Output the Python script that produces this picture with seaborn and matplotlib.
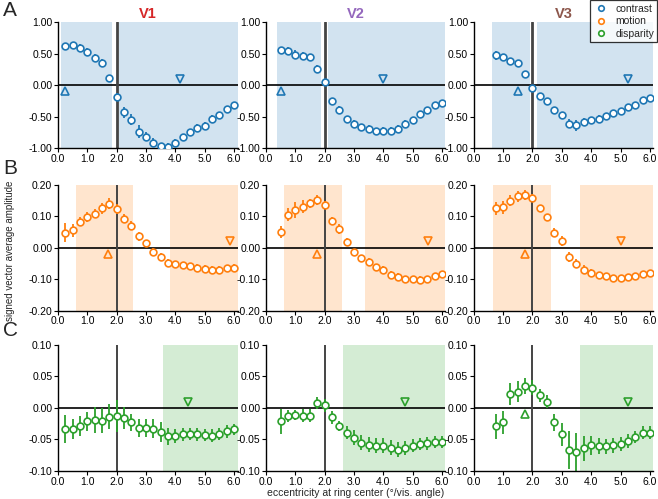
import numpy as np
import matplotlib
matplotlib.use("Agg")
import matplotlib.pyplot as plt
import seaborn as sns
from matplotlib.lines import Line2D
from matplotlib.ticker import FormatStrFormatter

# eccentricity positions (deg)
ecc_v1 = np.arange(0.25, 6.01, 0.25)
ecc_v2 = np.arange(0.50, 6.01, 0.25)
ecc_v3 = np.arange(0.75, 6.01, 0.25)

areas = ['V1', 'V2', 'V3']
conditions = ['contrast', 'motion', 'disparity']

# contrast
contrast_v1 = [0.62, 0.64, 0.59, 0.53, 0.43, 0.35, 0.105, -0.19, -0.43, -0.55, -0.74, -0.82,
               -0.91, -0.97, -0.98, -0.92, -0.82, -0.75, -0.68, -0.65, -0.54, -0.47, -0.38, -0.32]
contrast_v1_err = [0.04, 0.05, 0.06, 0.06, 0.06, 0.07, 0.04, 0.07, 0.09, 0.09, 0.1, 0.07,
                   0.07, 0.06, 0.07, 0.06, 0.05, 0.05, 0.06, 0.06, 0.06, 0.05, 0.04, 0.04]
contrast_v2 = [0.55, 0.54, 0.48, 0.46, 0.44, 0.26, 0.05, -0.26, -0.39, -0.54, -0.61, -0.66,
               -0.69, -0.73, -0.72, -0.72, -0.69, -0.61, -0.55, -0.46, -0.39, -0.32, -0.29]
contrast_v2_err = [0.04, 0.07, 0.07, 0.06, 0.06, 0.06, 0.04, 0.06, 0.06, 0.05, 0.05, 0.05,
                   0.06, 0.05, 0.05, 0.06, 0.06, 0.05, 0.04, 0.04, 0.04, 0.04, 0.04]
contrast_v3 = [0.47, 0.44, 0.38, 0.35, 0.18, -0.04, -0.17, -0.25, -0.39, -0.48, -0.61,
               -0.64, -0.58, -0.56, -0.53, -0.49, -0.44, -0.41, -0.35, -0.31, -0.23, -0.21]
contrast_v3_err = [0.07, 0.06, 0.04, 0.04, 0.03, 0.04, 0.04, 0.04, 0.04, 0.04, 0.07,
                   0.08, 0.06, 0.05, 0.05, 0.04, 0.04, 0.04, 0.04, 0.04, 0.03, 0.03]

# motion
motion_v1 = [0.047, 0.055, 0.083, 0.098, 0.108, 0.125, 0.14, 0.123, 0.092, 0.07, 0.036, 0.014,
             -0.014, -0.03, -0.047, -0.052, -0.054, -0.057, -0.063, -0.066, -0.069, -0.069, -0.064, -0.063]
motion_v1_err = [0.03, 0.02, 0.015, 0.015, 0.015, 0.018, 0.017, 0.015, 0.015, 0.015, 0.015, 0.01,
                 0.012, 0.012, 0.01, 0.01, 0.01, 0.01, 0.01, 0.01, 0.01, 0.01, 0.01, 0.01]
motion_v2 = [0.05, 0.105, 0.12, 0.13, 0.141, 0.152, 0.135, 0.086, 0.06, 0.019, -0.015, -0.032,
             -0.044, -0.061, -0.071, -0.086, -0.093, -0.098, -0.1, -0.101, -0.099, -0.088, -0.084]
motion_v2_err = [0.02, 0.02, 0.025, 0.02, 0.015, 0.015, 0.013, 0.013, 0.015, 0.012, 0.01, 0.01,
                 0.01, 0.01, 0.012, 0.012, 0.012, 0.01, 0.01, 0.01, 0.01, 0.008, 0.008]
motion_v3 = [0.125, 0.128, 0.149, 0.163, 0.167, 0.158, 0.125, 0.096, 0.048, 0.022, -0.03,
             -0.05, -0.069, -0.08, -0.086, -0.088, -0.095, -0.097, -0.092, -0.09, -0.084, -0.081]
motion_v3_err = [0.02, 0.02, 0.018, 0.017, 0.015, 0.012, 0.01, 0.01, 0.015, 0.015, 0.015,
                 0.015, 0.015, 0.012, 0.01, 0.008, 0.01, 0.008, 0.008, 0.008, 0.008, 0.008]

# disparity
disparity_v1 = [-0.033, -0.033, -0.029, -0.021, -0.019, -0.02, -0.014, -0.013, -0.016, -0.023,
                -0.032, -0.032, -0.033, -0.038, -0.045, -0.045, -0.042, -0.041, -0.042, -0.043,
                -0.044, -0.041, -0.037, -0.034]
disparity_v1_err = [0.022, 0.016, 0.016, 0.015, 0.02, 0.02, 0.02, 0.025, 0.018, 0.014, 0.014, 0.014,
                    0.015, 0.016, 0.014, 0.011, 0.01, 0.01, 0.01, 0.01, 0.01, 0.01, 0.01, 0.009]
disparity_v2 = [-0.021, -0.013, -0.011, -0.012, -0.012, 0.008, 0.004, -0.015, -0.028, -0.039,
                -0.047, -0.055, -0.058, -0.06, -0.06, -0.063, -0.066, -0.063, -0.06, -0.057,
                -0.056, -0.054, -0.054]
disparity_v2_err = [0.02, 0.01, 0.008, 0.01, 0.01, 0.01, 0.01, 0.01, 0.008, 0.01, 0.012, 0.012,
                    0.012, 0.012, 0.012, 0.012, 0.012, 0.011, 0.01, 0.01, 0.01, 0.01, 0.01]
disparity_v3 = [-0.029, -0.023, 0.022, 0.026, 0.035, 0.032, 0.02, 0.01, -0.023, -0.042, -0.066,
                -0.07, -0.064, -0.059, -0.06, -0.061, -0.059, -0.057, -0.053, -0.046, -0.039, -0.039]
disparity_v3_err = [0.02, 0.018, 0.018, 0.016, 0.013, 0.012, 0.01, 0.01, 0.013, 0.018, 0.03,
                    0.03, 0.02, 0.015, 0.013, 0.012, 0.012, 0.011, 0.011, 0.01, 0.01, 0.01]

# shaded eccentricity ranges per condition / area
shade_contrast = [[(0.09, 1.84), (2.08, 6.12)], [(0.38, 1.87), (2.12, 6.12)], [(0.63, 1.9), (2.14, 6.12)]]
shade_motion = [[(0.62, 2.57), (3.82, 6.12)], [(0.63, 2.61), (3.38, 6.12)], [(0.65, 2.62), (3.63, 6.12)]]
shade_disparity = [[(3.57, 6.12)], [(2.63, 6.12)], [(3.63, 6.12)]]

# triangle markers (x position) below / above zero
up_contrast = [0.25, 0.5, 1.5]
down_contrast = [4.15, 4.0, 5.27]
up_motion = [1.72, 1.75, 1.76]
down_motion = [5.88, 5.52, 5.0]
up_disparity = [None, None, 1.76]
down_disparity = [4.42, 4.75, 5.27]

colors = {'contrast': '#1f77b4', 'motion': '#ff7f0e', 'disparity': '#2ca02c'}
area_colors = ['#d62728', '#9467bd', '#8c564b']

rows = [
    ('contrast', [ecc_v1, ecc_v2, ecc_v3], [contrast_v1, contrast_v2, contrast_v3],
     [contrast_v1_err, contrast_v2_err, contrast_v3_err], shade_contrast, up_contrast, down_contrast, 1.0),
    ('motion', [ecc_v1, ecc_v2, ecc_v3], [motion_v1, motion_v2, motion_v3],
     [motion_v1_err, motion_v2_err, motion_v3_err], shade_motion, up_motion, down_motion, 0.2),
    ('disparity', [ecc_v1, ecc_v2, ecc_v3], [disparity_v1, disparity_v2, disparity_v3],
     [disparity_v1_err, disparity_v2_err, disparity_v3_err], shade_disparity, up_disparity, down_disparity, 0.1),
]

sns.set_theme(style="ticks")
plt.rcParams['font.family'] = ['Liberation Sans', 'DejaVu Sans']
plt.rcParams['xtick.labelsize'] = 7.5
plt.rcParams['ytick.labelsize'] = 7.5

fig = plt.figure(figsize=(6.58, 4.99), dpi=100)

lefts = [0.088, 0.404, 0.720]
width = 0.273
bottoms = [0.703, 0.377, 0.056]
height = 0.253

for r, (cond, xs, ys, errs, shades, ups, downs, lim) in enumerate(rows):
    col = colors[cond]
    for c in range(3):
        ax = fig.add_axes([lefts[c], bottoms[r], width, height])
        for (a, b) in shades[c]:
            ax.axvspan(a, b, color=col, alpha=0.2, lw=0, zorder=0)
        ax.axhline(0, color='black', lw=1.2, zorder=1)
        ax.axvline(2.0, color='#444444', lw=2.0 if r == 0 else 1.4, zorder=1)
        ax.errorbar(xs[c], ys[c], yerr=errs[c], fmt='none', ecolor=col, elinewidth=1.3, zorder=2)
        sns.scatterplot(x=xs[c], y=ys[c], ax=ax, marker='o', s=24, facecolor='white',
                        edgecolor=col, linewidth=1.2, zorder=3)
        if ups[c] is not None:
            ax.plot(ups[c], -0.1 * lim, marker='^', ms=6, mfc='none', mec=col, mew=1.2, ls='none', zorder=3)
        if downs[c] is not None:
            ax.plot(downs[c], 0.1 * lim, marker='v', ms=6, mfc='none', mec=col, mew=1.2, ls='none', zorder=3)

        ax.set_xlim(0, 6.12)
        ax.set_ylim(-lim, lim)
        ax.set_xticks(np.arange(0, 6.01, 1.0))
        ax.set_yticks(np.linspace(-lim, lim, 5))
        ax.xaxis.set_major_formatter(FormatStrFormatter('%.1f'))
        ax.yaxis.set_major_formatter(FormatStrFormatter('%.2f'))
        ax.tick_params(length=3, width=0.8, pad=1, colors='black')
        for s in ['top', 'right']:
            ax.spines[s].set_visible(False)
        for s in ['left', 'bottom']:
            ax.spines[s].set_color('black')
            ax.spines[s].set_linewidth(1.0)
        if r == 0:
            ax.set_title(areas[c], color=area_colors[c], fontweight='bold', fontsize=10.5, pad=3)

for lab, y in zip(['A', 'B', 'C'], [0.998, 0.682, 0.356]):
    fig.text(0.005, y, lab, fontsize=15, va='top', ha='left')

fig.text(0.008, 0.498, 'signed vector average amplitude', rotation=90, va='center', ha='left', fontsize=7)
fig.text(0.54, 0.003, 'eccentricity at ring center (\u00b0/vis. angle)', ha='center', va='bottom', fontsize=7.5)

handles = [Line2D([0], [0], marker='o', ls='none', mfc='white', mec=colors[k], ms=4, mew=1.2)
           for k in conditions]
leg = fig.legend(handles, conditions, loc='upper right', bbox_to_anchor=(0.999, 0.999),
                 fontsize=7.5, frameon=True, fancybox=False, handletextpad=0.6, handlelength=1.5,
                 borderpad=0.3, labelspacing=0.25, borderaxespad=0)
leg.get_frame().set_edgecolor('black')
leg.get_frame().set_linewidth(0.9)

fig.savefig('out.png', dpi=100)
